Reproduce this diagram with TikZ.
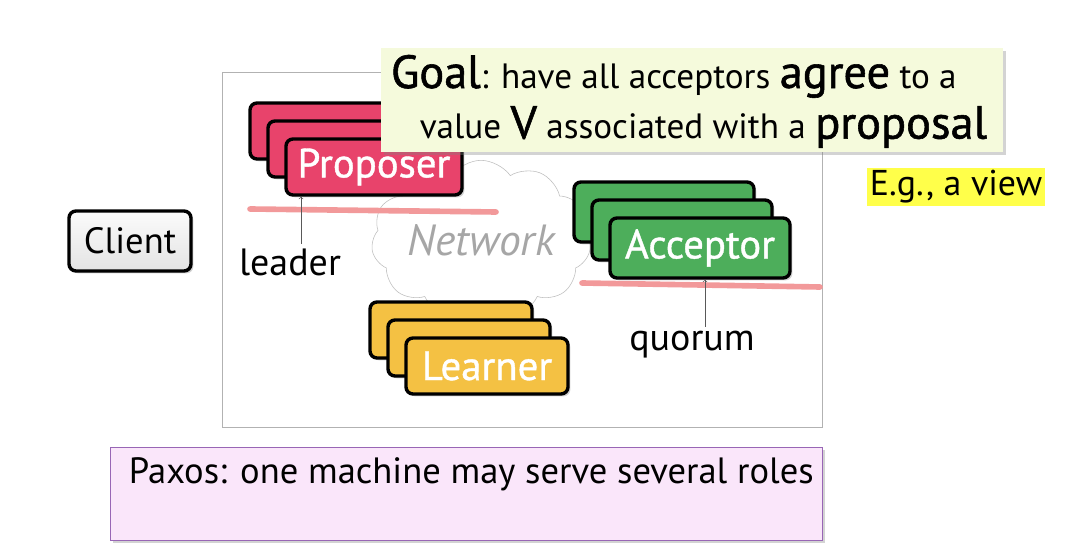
\documentclass[tikz,border=0pt]{standalone}
\usepackage{fontspec}
\setmainfont{PT Sans}
\usetikzlibrary{positioning,shapes.symbols,shadows}

\definecolor{propred}{HTML}{E8436B}
\definecolor{accgreen}{HTML}{4DAE5B}
\definecolor{learnyel}{HTML}{F4C143}
\definecolor{goalbg}{HTML}{F5FADC}
\definecolor{paxbg}{HTML}{FAE6FA}
\definecolor{paxline}{HTML}{9866B5}
\definecolor{quorline}{HTML}{F2999A}
\definecolor{hilite}{HTML}{FFFF4A}

\tikzset{
  shad/.style={drop shadow={opacity=.35,shadow xshift=.06cm,shadow yshift=-.06cm}},
  role/.style={draw=black,line width=2.4pt,rounded corners=5pt,text=white,shad,
    font=\fontsize{29}{30}\selectfont\addfontfeature{FakeBold=1}},
  propbox/.style={role,fill=propred,minimum width=4.4cm,minimum height=1.4cm},
  accbox/.style={role,fill=accgreen,minimum width=4.5cm,minimum height=1.5cm},
  learnbox/.style={role,fill=learnyel,minimum width=4.05cm,minimum height=1.4cm},
  quor/.style={quorline,line width=4pt,line cap=round},
  pin/.style={->,gray!70!black,thin},
  lbl/.style={font=\fontsize{27}{29}\selectfont}
}
\newcommand{\keyword}[1]{{\fontsize{33}{34}\selectfont\addfontfeature{FakeBold=1.2}#1}}

\begin{document}
\begin{tikzpicture}[x=0.025cm,y=-0.025cm]
  \useasboundingbox (0,0) rectangle (1072,550);

  % system frame
  \draw [gray!60,thin] (222,72) rectangle (822,427);

  % network
  \node [cloud,cloud puffs=11,cloud puff arc=110,aspect=1.55,draw=gray!50,fill=white,inner sep=0pt,
    minimum width=5.35cm,minimum height=3.5cm,text=gray!70,
    font=\itshape\fontsize{31}{32}\selectfont] (net) at (481,240) {Network};

  % proposers
  \foreach \i in {2,1}
    \node [propbox] (prop\i) at (374-18*\i,167-18*\i) {};
  \node [propbox] (prop) at (374,167) {Proposer};

  % acceptors
  \foreach \i in {2,1}
    \node [accbox] (acc\i) at (700-18*\i,248-18*\i) {};
  \node [accbox] (acc) at (700,248) {Acceptor};

  % learners
  \foreach \i in {2,1}
    \node [learnbox] (learn\i) at (487-18*\i,366-18*\i) {};
  \node [learnbox] (learn) at (487,366) {Learner};

  % client
  \node [draw=black,line width=2.4pt,rounded corners=5pt,shad,top color=gray!3,bottom color=gray!22,
    minimum width=3.05cm,minimum height=1.5cm,font=\fontsize{26}{28}\selectfont] (client) at (130,241) {Client};

  % leader and quorum marks
  \coordinate (leadL) at (250,209);
  \coordinate (leadR) at (496,212);
  \draw [quor] (leadL) -- (leadR);
  \node [lbl] (leader) at (290,262) {leader};
  \draw [pin] ([xshift=11*0.025cm]leader.north) -- ([xshift=11*0.025cm]leader.north |- prop.south);

  \coordinate (quorL) at (582,283);
  \coordinate (quorR) at (820,287);
  \draw [quor] (quorL) -- (quorR);
  \node [lbl] (quorum) at (692,345) {quorum};
  \draw [pin] ([xshift=13*0.025cm]quorum.north) -- ([xshift=13*0.025cm]quorum.north |- acc.south);

  % goal
  \node [fill=goalbg,shad,minimum width=15.55cm,minimum height=2.6cm,anchor=north west,
    inner sep=0pt] (goalbox) at (381,48) {};
  \node [anchor=north west,align=left,font=\fontsize{25}{36}\selectfont] (goal) at (386,50)
    {\keyword{Goal}: have all acceptors \keyword{agree} to a\\
     \hspace*{0.72cm}value \keyword{V} associated with a \keyword{proposal}};

  \node [fill=hilite,minimum width=4.45cm,minimum height=0.95cm,inner sep=0pt,
    font=\fontsize{25.5}{27}\selectfont] (eg) at (956,187) {E.g., a view};

  % paxos
  \node [draw=paxline,fill=paxbg,shad,minimum width=17.8cm,minimum height=2.32cm,anchor=north west,
    inner sep=0pt] (paxbox) at (110,447) {};
  \node [anchor=north west,font=\fontsize{26}{28}\selectfont] (paxos) at (124,453)
    {Paxos: one machine may serve several roles};
\end{tikzpicture}
\end{document}
